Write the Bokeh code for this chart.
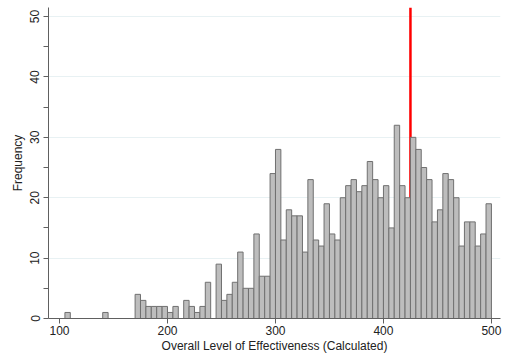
from bokeh.plotting import figure
from bokeh.models import Range1d, FixedTicker, ColumnDataSource
from bokeh.embed import file_html
from bokeh.resources import INLINE

bin_left = [105, 140, 170, 175, 180, 185, 190, 195, 200, 205, 215, 220, 225, 230, 235,
            245, 250, 255, 260, 265, 270, 275, 280, 285, 290, 295, 300, 305, 310, 315,
            320, 325, 330, 335, 340, 345, 350, 355, 360, 365, 370, 375, 380, 385, 390,
            395, 400, 405, 410, 415, 420, 425, 430, 435, 440, 445, 450, 455, 460, 465,
            470, 475, 480, 485, 490, 495]
counts = [1, 1, 4, 3, 2, 2, 2, 2, 1, 2, 3, 2, 1, 2, 6,
          9, 3, 4, 6, 11, 5, 5, 14, 7, 7, 24, 28, 13, 18, 17,
          17, 11, 23, 13, 12, 19, 14, 13, 20, 22, 23, 21, 22, 26, 23,
          20, 22, 15, 32, 22, 20, 30, 28, 25, 23, 16, 18, 24, 23, 20,
          12, 16, 16, 12, 14, 19]
bin_width = 5
ref_value = 425
x_ticks = [100, 200, 300, 400, 500]
y_ticks = [0, 10, 20, 30, 40, 50]
y_minor = [5, 15, 25, 35, 45]

src = ColumnDataSource(dict(
    left=bin_left,
    right=[b + bin_width for b in bin_left],
    top=counts,
    bottom=[0] * len(counts),
))

p = figure(width=510, height=356, output_backend="svg", toolbar_location=None,
           x_range=Range1d(89.8, 508.4), y_range=Range1d(0, 51.5),
           min_border_left=48, min_border_right=10, min_border_top=7, min_border_bottom=38)
p.outline_line_color = None
p.background_fill_color = "white"
p.border_fill_color = "white"

p.segment(x0=[ref_value], y0=[0], x1=[ref_value], y1=[51.5], line_color="#ff0000", line_width=2.5)
p.quad(left="left", right="right", top="top", bottom="bottom", source=src,
       fill_color="#bdbdbd", line_color="#707070", line_width=1)

p.xgrid.grid_line_color = None
p.ygrid.grid_line_color = "#e8f1f3"
p.ygrid.grid_line_width = 1

p.xaxis.ticker = FixedTicker(ticks=x_ticks)
p.yaxis.ticker = FixedTicker(ticks=y_ticks, minor_ticks=y_minor)

for ax in (p.xaxis[0], p.yaxis[0]):
    ax.axis_line_color = "#606060"
    ax.major_tick_line_color = "#606060"
    ax.minor_tick_line_color = "#606060"
    ax.major_tick_out = 5
    ax.major_tick_in = 0
    ax.major_label_text_font = "Liberation Sans"
    ax.major_label_text_font_size = "12px"
    ax.major_label_text_color = "#222222"
    ax.axis_label_text_font = "Liberation Sans"
    ax.axis_label_text_font_size = "12px"
    ax.axis_label_text_font_style = "normal"
    ax.axis_label_text_color = "#222222"

p.xaxis.minor_tick_line_color = None
p.yaxis.minor_tick_out = 5
p.yaxis.minor_tick_in = 0
p.yaxis.major_label_orientation = "vertical"
p.xaxis.axis_label = "Overall Level of Effectiveness (Calculated)"
p.yaxis.axis_label = "Frequency"
p.xaxis.major_label_standoff = 2
p.xaxis.axis_label_standoff = 1
p.yaxis.major_label_standoff = 4
p.yaxis.axis_label_standoff = 3

open("out.html", "w").write(file_html(p, INLINE))
